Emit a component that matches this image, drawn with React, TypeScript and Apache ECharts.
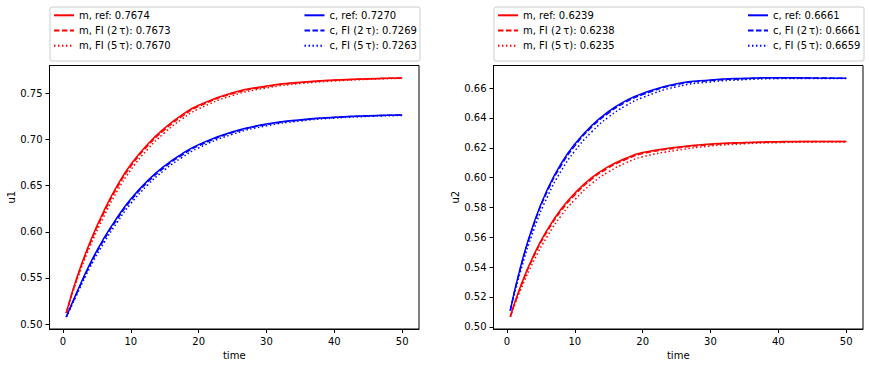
import React, { useEffect, useRef } from 'react';
import * as echarts from 'echarts';

const time = [0.5, 2, 4, 6, 8, 10, 12.5, 15, 17.5, 20, 25, 30, 35, 40, 45, 50];

// left panel (u1)
const u1_m_ref = [0.512, 0.549, 0.589, 0.622, 0.650, 0.673, 0.695, 0.7125, 0.7265, 0.7372, 0.7508, 0.758, 0.7622, 0.7645, 0.7659, 0.7668];
const u1_m_fi2 = [0.512, 0.548, 0.5873, 0.620, 0.648, 0.671, 0.6932, 0.7108, 0.725, 0.7359, 0.7498, 0.7573, 0.7617, 0.7642, 0.7657, 0.7667];
const u1_m_fi5 = [0.512, 0.546, 0.584, 0.616, 0.644, 0.667, 0.6895, 0.7075, 0.722, 0.7332, 0.7478, 0.756, 0.7607, 0.7635, 0.7653, 0.7664];
const u1_c_ref = [0.5076, 0.5335, 0.5655, 0.5925, 0.6155, 0.6355, 0.6555, 0.6715, 0.6842, 0.6945, 0.7085, 0.7168, 0.7215, 0.7242, 0.7258, 0.7267];
const u1_c_fi2 = [0.5076, 0.5325, 0.564, 0.5907, 0.6137, 0.6338, 0.6539, 0.67, 0.6829, 0.6933, 0.7076, 0.7162, 0.7211, 0.7239, 0.7256, 0.7266];
const u1_c_fi5 = [0.5076, 0.531, 0.5615, 0.5875, 0.6103, 0.6305, 0.6508, 0.6672, 0.6803, 0.691, 0.7058, 0.7149, 0.7202, 0.7233, 0.7251, 0.7261];

// right panel (u2)
const u2_m_ref = [0.5067, 0.527, 0.5485, 0.5655, 0.579, 0.5895, 0.600, 0.6075, 0.613, 0.6168, 0.6203, 0.6225, 0.6236, 0.6241, 0.6243, 0.6243];
const u2_m_fi2 = [0.5067, 0.5263, 0.5475, 0.5643, 0.5778, 0.5884, 0.599, 0.6066, 0.6122, 0.6161, 0.6198, 0.6221, 0.6233, 0.6239, 0.6242, 0.6242];
const u2_m_fi5 = [0.5067, 0.5245, 0.5445, 0.561, 0.5745, 0.5852, 0.596, 0.6039, 0.6098, 0.614, 0.6183, 0.6212, 0.6227, 0.6235, 0.6238, 0.6239];
const u2_c_ref = [0.5108, 0.540, 0.570, 0.5925, 0.6095, 0.6225, 0.6350, 0.6445, 0.6515, 0.6565, 0.6630, 0.6655, 0.6666, 0.6670, 0.6669, 0.6667];
const u2_c_fi2 = [0.5108, 0.5392, 0.5688, 0.5912, 0.6082, 0.6213, 0.6339, 0.6435, 0.6506, 0.6557, 0.6624, 0.6651, 0.6663, 0.6668, 0.6668, 0.6666];
const u2_c_fi5 = [0.5108, 0.537, 0.5655, 0.5875, 0.6045, 0.6178, 0.6307, 0.6407, 0.6482, 0.6537, 0.661, 0.6642, 0.6657, 0.6664, 0.6665, 0.6664];

const TS = '\u2009\u03C4';
const u1Names = [
  'm, ref: 0.7674', `m, FI (2${TS}): 0.7673`, `m, FI (5${TS}): 0.7670`,
  'c, ref: 0.7270', `c, FI (2${TS}): 0.7269`, `c, FI (5${TS}): 0.7263`,
];
const u2Names = [
  'm, ref: 0.6239', `m, FI (2${TS}): 0.6238`, `m, FI (5${TS}): 0.6235`,
  'c, ref: 0.6661', `c, FI (2${TS}): 0.6661`, `c, FI (5${TS}): 0.6659`,
];

const xTicks = [0, 10, 20, 30, 40, 50];
const u1Ticks = [0.5, 0.55, 0.6, 0.65, 0.7, 0.75];
const u2Ticks = [0.5, 0.52, 0.54, 0.56, 0.58, 0.6, 0.62, 0.64, 0.66];

const FONT = 'DejaVu Sans';
const DASHED = [5.55, 2.4];
const DOTTED = [1.5, 2.475];

export default function App() {
  const ref = useRef<HTMLDivElement>(null);
  useEffect(() => {
    if (!ref.current) return;
    const chart = echarts.init(ref.current, undefined, { renderer: 'svg' });

    const panels = [
      { names: u1Names, data: [u1_m_ref, u1_m_fi2, u1_m_fi5, u1_c_ref, u1_c_fi2, u1_c_fi5] },
      { names: u2Names, data: [u2_m_ref, u2_m_fi2, u2_m_fi5, u2_c_ref, u2_c_fi2, u2_c_fi5] },
    ];
    const colors = ['#ff0000', '#ff0000', '#ff0000', '#0000ff', '#0000ff', '#0000ff'];
    const types: any[] = ['solid', DASHED, DOTTED, 'solid', DASHED, DOTTED];

    const series: any[] = [];
    panels.forEach((p, pi) => {
      p.data.forEach((arr, si) => {
        series.push({
          type: 'line',
          name: p.names[si],
          xAxisIndex: pi,
          yAxisIndex: pi,
          data: time.map((t, i) => [t, arr[i]]),
          symbol: 'none',
          showSymbol: false,
          smooth: 0.5,
          color: colors[si],
          lineStyle: { color: colors[si], width: 1.5, type: types[si] },
          emphasis: { disabled: true },
          z: 2,
        });
      });
    });

    const axisCommon = {
      axisLine: { show: true, onZero: false, lineStyle: { color: '#000', width: 1 } },
      axisTick: { show: true, length: 4, lineStyle: { color: '#000', width: 1 } },
      splitLine: { show: false },
      nameTextStyle: { fontSize: 10, color: '#000', fontFamily: FONT },
    };

    const xAxis = [0, 1].map((i) => ({
      type: 'value',
      gridIndex: i,
      min: -1.975,
      max: 52.475,
      name: 'time',
      nameLocation: 'middle',
      nameGap: 19,
      ...axisCommon,
      axisTick: { ...axisCommon.axisTick, customValues: xTicks },
      axisLabel: { customValues: xTicks, fontSize: 10, color: '#000', fontFamily: FONT, margin: 7 },
    }));

    const yAxis = [
      { gridIndex: 0, min: 0.4946, max: 0.7803, name: 'u1', ticks: u1Ticks },
      { gridIndex: 1, min: 0.4985, max: 0.6752, name: 'u2', ticks: u2Ticks },
    ].map((a) => ({
      type: 'value',
      gridIndex: a.gridIndex,
      min: a.min,
      max: a.max,
      name: a.name,
      nameLocation: 'middle',
      nameRotate: 90,
      nameGap: 33,
      ...axisCommon,
      axisTick: { ...axisCommon.axisTick, customValues: a.ticks },
      axisLabel: {
        customValues: a.ticks,
        fontSize: 10,
        color: '#000',
        fontFamily: FONT,
        margin: 7,
        formatter: (v: number) => v.toFixed(2),
      },
    }));

    const legendBase = {
      orient: 'vertical',
      top: 9.7,
      padding: 0,
      itemWidth: 20,
      itemHeight: 14,
      itemGap: 4,
      selectedMode: false,
      itemStyle: { color: 'rgba(0,0,0,0)', borderWidth: 0, opacity: 0 },
      textStyle: { fontSize: 10, color: '#000', fontFamily: FONT },
    };
    const legend = [
      { ...legendBase, left: 53, data: u1Names.slice(0, 3) },
      { ...legendBase, left: 303.5, data: u1Names.slice(3) },
      { ...legendBase, left: 497, data: u2Names.slice(0, 3) },
      { ...legendBase, left: 747, data: u2Names.slice(3) },
    ];

    chart.setOption({
      animation: false,
      backgroundColor: '#ffffff',
      textStyle: { fontFamily: FONT },
      grid: [
        { left: 49.5, top: 65.5, width: 369.5, height: 263.5, show: true, borderColor: '#000', borderWidth: 1, backgroundColor: 'transparent' },
        { left: 493.5, top: 65.5, width: 369.5, height: 263.5, show: true, borderColor: '#000', borderWidth: 1, backgroundColor: 'transparent' },
      ],
      xAxis,
      yAxis,
      legend,
      graphic: [
        { type: 'rect', left: 49.5, top: 6.5, shape: { width: 370, height: 54, r: 2 }, style: { fill: '#fff', stroke: '#cccccc', lineWidth: 1 }, z: -1 },
        { type: 'rect', left: 493.5, top: 6.5, shape: { width: 370, height: 54, r: 2 }, style: { fill: '#fff', stroke: '#cccccc', lineWidth: 1 }, z: -1 },
      ],
      series,
    });
    return () => chart.dispose();
  }, []);
  return <div ref={ref} style={{ position: 'absolute', left: 0, top: 0, width: 869, height: 367 }} />;
}
